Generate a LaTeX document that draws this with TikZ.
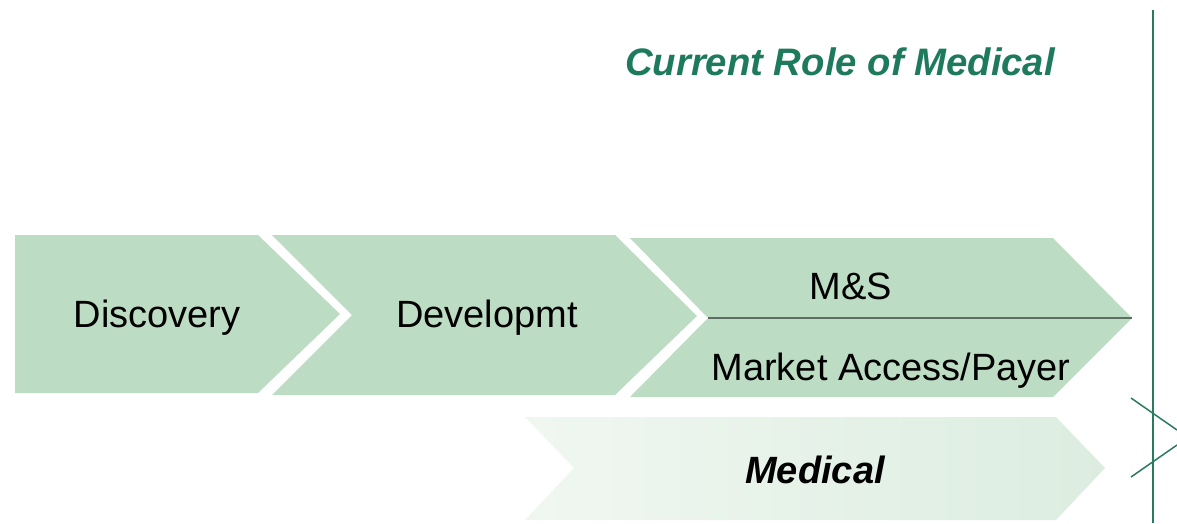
\documentclass[tikz,border=0pt]{standalone}
\usepackage{fontspec}
\setmainfont{Liberation Sans}
\definecolor{chev}{HTML}{BDDCC4}
\definecolor{medL}{HTML}{F0F7F1}
\definecolor{medR}{HTML}{DCEDE0}
\definecolor{ttl}{HTML}{1E7A5C}
\definecolor{vline}{HTML}{2A7A62}
\definecolor{divl}{HTML}{5E6E62}
\begin{document}
\begin{tikzpicture}[x=1pt,y=-1pt,
  chevfill/.style={fill=chev,draw=none},
  lbl/.style={font=\fontsize{38}{40}\selectfont,text=black,inner sep=0pt},
  ttlstyle/.style={font=\fontsize{38.3}{40}\selectfont\bfseries\itshape,text=ttl,inner sep=0pt}]
\useasboundingbox (0,0) rectangle (1177,523);
% chevrons
\path[chevfill] (15,235) -- (258,235) -- (340,314) -- (258,393) -- (15,393) -- cycle;
\path[chevfill] (272,235) -- (615,235) -- (697,316) -- (615,395) -- (272,395) -- (352,315) -- cycle;
\path[chevfill] (630,238) -- (1053,238) -- (1132,318) -- (1053,397) -- (630,397) -- (708,318) -- cycle;
\path[left color=medL,right color=medR,draw=none] (525,417) -- (1056,417) -- (1105,468) -- (1056,520) -- (525,520) -- (574,468) -- cycle;
% divider
\coordinate (dl) at (708,318);
\coordinate (dr) at (1132,318);
\draw[divl,line width=1.6pt] (dl) -- (dr);
% labels
\node[lbl] (disc) at (157,318) {Discovery};
\node[lbl] (dev) at (487,318) {Developmt};
\node[lbl] (ms) at (851,286) {M\&S};
\node[lbl] (ma) at (891,371) {Market Access/Payer};
\node[lbl,font=\fontsize{38}{40}\selectfont\bfseries\itshape] (med) at (815,470) {Medical};
\node[ttlstyle] (title) at (840,62) {Current Role of Medical};
% vertical line and bracket
\coordinate (vt) at (1153,10);
\coordinate (vb) at (1153,523);
\draw[vline,line width=2pt] (vt) -- (vb);
\coordinate (b1) at (1131,398);
\coordinate (b2) at (1177,430);
\coordinate (b3) at (1131,477);
\coordinate (b4) at (1177,445);
\draw[vline,line width=1.5pt] (b1) -- (b2);
\draw[vline,line width=1.5pt] (b3) -- (b4);
\end{tikzpicture}
\end{document}
